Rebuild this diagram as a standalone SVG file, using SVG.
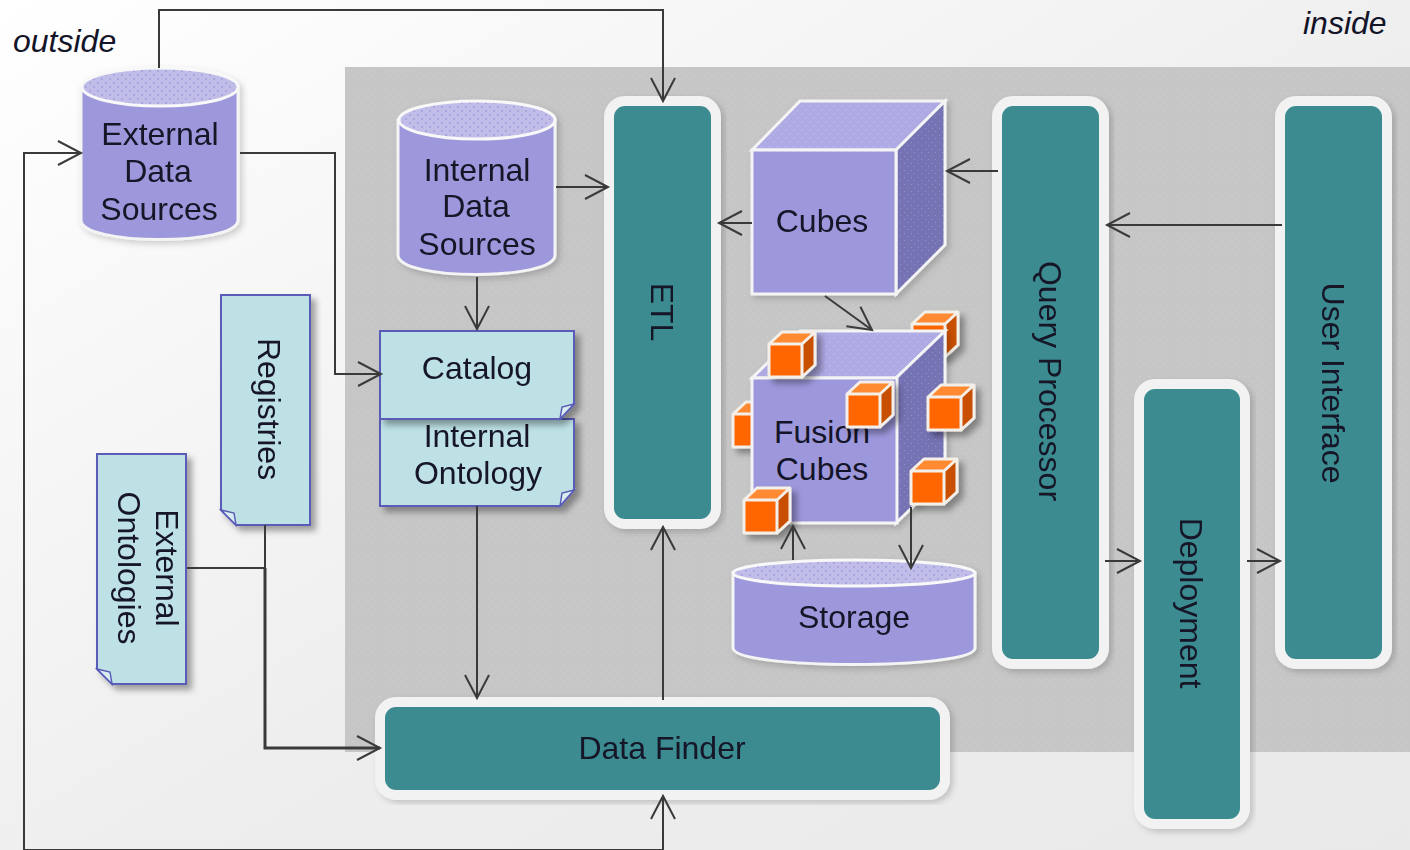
<svg xmlns="http://www.w3.org/2000/svg" width="1410" height="850" viewBox="0 0 1410 850">
<defs>
<linearGradient id="bg" x1="0" y1="0" x2="1" y2="1"><stop offset="0" stop-color="#ffffff"/><stop offset="0.55" stop-color="#eeeeee"/><stop offset="1" stop-color="#e9e9e9"/></linearGradient>
<pattern id="dots" width="9" height="9" patternUnits="userSpaceOnUse"><rect width="9" height="9" fill="#c6c6c6"/><rect x="2" y="3" width="1" height="1" fill="#d2d2d2"/><rect x="6" y="7" width="1" height="1" fill="#d2d2d2"/></pattern>
<pattern id="dt" width="8" height="8" patternUnits="userSpaceOnUse"><rect width="8" height="8" fill="#c0bee9"/><rect x="1" y="2" width="2" height="2" fill="#a9a6e0"/><rect x="5" y="6" width="2" height="2" fill="#a9a6e0"/></pattern>
<pattern id="dc" width="8" height="8" patternUnits="userSpaceOnUse"><rect width="8" height="8" fill="#aeaae4"/><rect x="1" y="2" width="1" height="1" fill="#c8c6ee"/><rect x="5" y="6" width="1" height="1" fill="#c8c6ee"/></pattern>
<pattern id="ds" width="7" height="7" patternUnits="userSpaceOnUse"><rect width="7" height="7" fill="#7673b4"/><rect x="1" y="2" width="1" height="1" fill="#9390cc"/><rect x="4" y="5" width="1" height="1" fill="#9390cc"/></pattern>
<filter id="sh" x="-20%" y="-20%" width="150%" height="150%"><feDropShadow dx="5" dy="5" stdDeviation="3" flood-color="#000" flood-opacity="0.35"/></filter>
<filter id="soft" x="-10%" y="-10%" width="120%" height="120%"><feDropShadow dx="3" dy="3" stdDeviation="3" flood-color="#000" flood-opacity="0.18"/></filter>
<marker id="a" markerUnits="userSpaceOnUse" markerWidth="30" markerHeight="30" refX="25" refY="15" orient="auto"><path d="M2 3 L25 15 L2 27" fill="none" stroke="#3a3a3a" stroke-width="2"/></marker>
<g id="bx"><path d="M0 12 H33 V45 H0Z" fill="#ff6600"/><path d="M0 12 L13 0 H46 L33 12Z" fill="#ff8a33"/><path d="M33 12 L46 0 V33 L33 45Z" fill="#c85000"/><path d="M0 12 H33 V45 H0Z M0 12 L13 0 H46 V33 L33 45 M33 12 L46 0" fill="none" stroke="#f4efe8" stroke-width="3" stroke-linejoin="round"/></g>
</defs>
<style>
.t{font-family:"Liberation Sans",Arial,sans-serif;font-size:32px;fill:#141428;text-anchor:middle}
.i{font-style:italic;text-anchor:start}
.c{fill:none;stroke:#3a3a3a;stroke-width:2}
.m{marker-end:url(#a)}
.teal{fill:#3b8b90;stroke:#f2f2f2;stroke-width:10}
.cy{fill:#9d98dc;stroke:#f4f4f4;stroke-width:3}
.top{fill:url(#dt);stroke:#f8f8f8;stroke-width:3}
.note{fill:#bde1e5;stroke:#5a5cb8;stroke-width:2}
.fold{fill:#d8eef0;stroke:#5a5cb8;stroke-width:1.5}
.f{fill:#9d98dc;stroke:#f4f4f4;stroke-width:3}
.ft{fill:url(#dc);stroke:#f4f4f4;stroke-width:3}
.fs{fill:url(#ds);stroke:#f4f4f4;stroke-width:3}
</style>
<rect width="1410" height="850" fill="url(#bg)"/>
<rect x="345" y="67" width="1065" height="685" fill="url(#dots)"/>
<text class="t i" x="13" y="52">outside</text>
<text class="t i" x="1303" y="34">inside</text>

<g id="ext-sources" filter="url(#soft)">
<path class="cy" d="M81 88 V220 C81 246 238 246 238 220 V88Z"/>
<ellipse class="top" cx="160" cy="87" rx="78" ry="19"/>
<text class="t" x="160" y="145">External</text><text class="t" x="158" y="182">Data</text><text class="t" x="159" y="220">Sources</text>
</g>
<g id="int-sources" filter="url(#soft)">
<path class="cy" d="M398 120 V255 C398 281 555 281 555 255 V120Z"/>
<ellipse class="top" cx="477" cy="120" rx="78" ry="19"/>
<text class="t" x="477" y="181">Internal</text><text class="t" x="476" y="217">Data</text><text class="t" x="477" y="255">Sources</text>
</g>

<g id="registries" filter="url(#sh)">
<path class="note" d="M221 295 H310 V525 H236 L221 510Z"/><path class="fold" d="M221 510 L234 513 L236 525Z"/>
<text class="t" transform="translate(258 409) rotate(90)">Registries</text>
</g>
<g id="ext-ontologies" filter="url(#sh)">
<path class="note" d="M97 454 H186 V684 H112 L97 669Z"/><path class="fold" d="M97 669 L110 672 L112 684Z"/>
<text class="t" transform="translate(156 568) rotate(90)">External</text>
<text class="t" transform="translate(118 568) rotate(90)">Ontologies</text>
</g>
<g id="int-ontology" filter="url(#sh)">
<path class="note" d="M380 419 H574 V490 L560 506 H380Z"/><path class="fold" d="M574 490 L562 493 L560 506Z"/>
<text class="t" x="477" y="447">Internal</text><text class="t" x="478" y="484">Ontology</text>
</g>
<g id="catalog" filter="url(#sh)">
<path class="note" d="M380 331 H574 V404 L560 419 H380Z"/><path class="fold" d="M574 404 L562 407 L560 419Z"/>
<text class="t" x="477" y="379">Catalog</text>
</g>

<g id="etl" filter="url(#soft)"><rect class="teal" x="609" y="101" width="107" height="423" rx="16"/>
<text class="t" transform="translate(651 312) rotate(90)">ETL</text></g>

<g id="cubes" filter="url(#soft)">
<path class="ft" d="M752 150 L800 101 H945 L896 150Z"/><path class="fs" d="M896 150 L945 101 V245 L896 294Z"/><rect class="f" x="752" y="150" width="144" height="144"/>
<text class="t" x="822" y="232">Cubes</text>
</g>

<g id="fusion-cubes">
<use href="#bx" x="912" y="312" filter="url(#sh)"/>
<use href="#bx" x="733" y="402" filter="url(#sh)"/>
<g filter="url(#soft)"><path class="ft" d="M752 378 L800 331 H945 L896 378Z"/><path class="fs" d="M896 378 L945 331 V476 L896 523Z"/><rect class="f" x="752" y="378" width="145" height="145"/></g>
<text class="t" x="822" y="443">Fusion</text><text class="t" x="822" y="480">Cubes</text>
<use href="#bx" x="769" y="332" filter="url(#sh)"/>
<use href="#bx" x="847" y="382" filter="url(#sh)"/>
<use href="#bx" x="928" y="385" filter="url(#sh)"/>
<use href="#bx" x="911" y="459" filter="url(#sh)"/>
<use href="#bx" x="744" y="488" filter="url(#sh)"/>
</g>

<g id="storage" filter="url(#soft)">
<path class="cy" d="M733 573 V648 C733 670 975 670 975 648 V573Z"/>
<ellipse class="top" cx="854" cy="573" rx="121" ry="13"/>
<text class="t" x="854" y="628">Storage</text>
</g>

<g id="query" filter="url(#soft)"><rect class="teal" x="997" y="101" width="107" height="563" rx="16"/>
<text class="t" transform="translate(1039 381) rotate(90)">Query Processor</text></g>
<g id="ui" filter="url(#soft)"><rect class="teal" x="1280" y="101" width="107" height="563" rx="16"/>
<text class="t" transform="translate(1322 383) rotate(90)">User Interface</text></g>
<g id="deployment" filter="url(#soft)"><rect class="teal" x="1139" y="384" width="106" height="440" rx="16"/>
<text class="t" transform="translate(1180 603) rotate(90)">Deployment</text></g>
<g id="finder" filter="url(#soft)"><rect class="teal" x="380" y="702" width="565" height="93" rx="16"/>
<text class="t" x="662" y="759">Data Finder</text></g>

<g id="connectors">
<path class="c m" d="M159 68 V10 H663 V101"/>
<path class="c m" d="M240 153 H335 V374 H381"/>
<path class="c m" d="M663 850 H24 V153 H81"/>
<path class="c m" d="M663 850 V796"/>
<path class="c m" d="M556 187 H608"/>
<path class="c m" d="M477 277 V329"/>
<path class="c m" d="M477 506 V698"/>
<path class="c m" d="M663 700 V527"/>
<path class="c m" d="M752 223 H719"/>
<path class="c m" d="M998 171 H947"/>
<path class="c m" d="M1282 225 H1107"/>
<path class="c m" d="M825 296 L872 330"/>
<path class="c m" d="M793 560 V526"/>
<path class="c m" d="M911 507 V568"/>
<path class="c m" d="M1105 561 H1140"/>
<path class="c m" d="M1247 561 H1280"/>
<path class="c" d="M187 568 H265 M265 525 V568"/>
<path class="c m" style="stroke-width:3" d="M265 568 V748 H380"/>
</g>
</svg>
